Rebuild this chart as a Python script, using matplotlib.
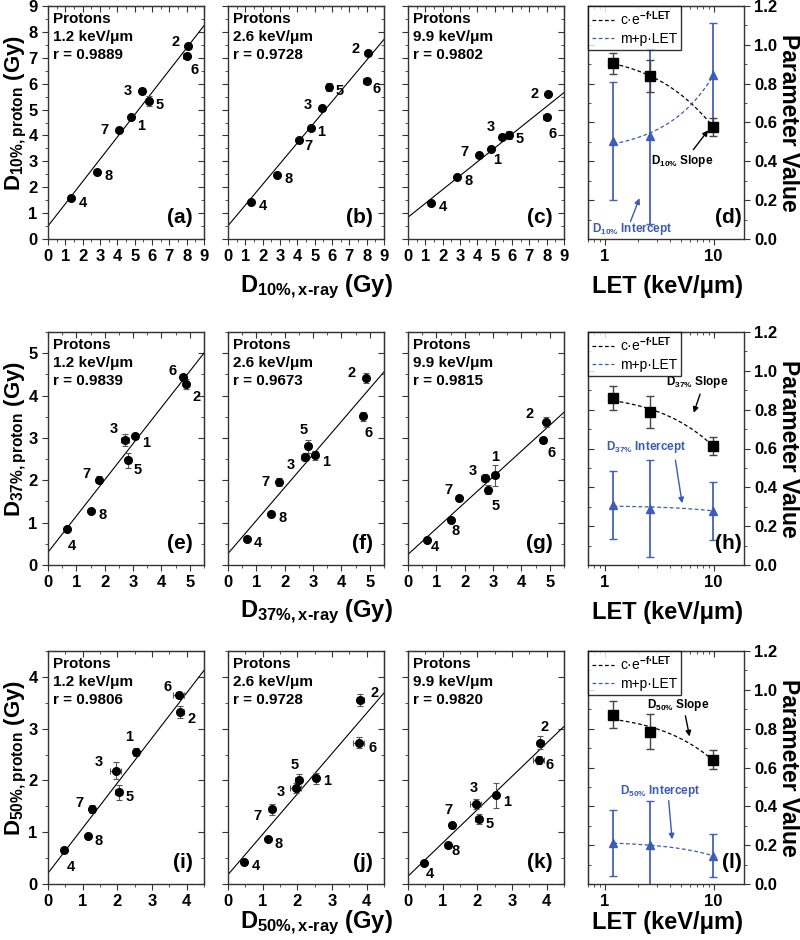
import matplotlib
matplotlib.use('Agg')
import matplotlib.pyplot as plt
from matplotlib.ticker import MultipleLocator, LogLocator, NullFormatter, FixedLocator
import numpy as np

plt.rcParams['font.family'] = ['Liberation Sans', 'DejaVu Sans']
plt.rcParams['font.weight'] = 'bold'
plt.rcParams['mathtext.fontset'] = 'custom'
plt.rcParams['mathtext.rm'] = 'Liberation Sans:bold'
plt.rcParams['mathtext.bf'] = 'Liberation Sans:bold'
plt.rcParams['mathtext.it'] = 'Liberation Sans:bold'

#___Datos

cell_ids = ['1', '2', '3', '4', '5', '6', '7', '8']
LET = [1.2, 2.6, 9.9]
LET_text = ['1.2', '2.6', '9.9']

# D10%
xray_d10 = [4.8, 8.1, 5.4, 1.35, 5.8, 8.0, 4.08, 2.85]
xray_d10_err = [0.05, 0.08, 0.1, 0.03, 0.12, 0.2, 0.05, 0.05]
proton_d10 = [[4.7, 7.45, 5.72, 1.57, 5.32, 7.08, 4.2, 2.6],
              [4.29, 7.17, 5.06, 1.44, 5.86, 6.1, 3.82, 2.47],
              [3.47, 5.6, 3.95, 1.38, 4.02, 4.7, 3.24, 2.4]]
proton_d10_err = [[0.05, 0.1, 0.1, 0.05, 0.2, 0.1, 0.05, 0.05],
                  [0.05, 0.08, 0.1, 0.05, 0.15, 0.1, 0.05, 0.05],
                  [0.08, 0.05, 0.1, 0.05, 0.15, 0.1, 0.05, 0.05]]
r_d10 = ['0.9889', '0.9728', '0.9802']
line_d10_int = [0.5, 0.51, 0.84]
line_d10_slope = [0.86, 0.80, 0.535]
slope_d10 = [0.905, 0.838, 0.578]
slope_d10_err = [0.055, 0.082, 0.045]
icpt_d10 = [0.505, 0.528, 0.845]
icpt_d10_err = [0.306, 0.45, 0.265]

# D37%
xray_d37 = [3.08, 4.86, 2.71, 0.66, 2.83, 4.77, 1.8, 1.53]
xray_d37_err = [0.08, 0.08, 0.15, 0.03, 0.1, 0.1, 0.08, 0.03]
proton_d37 = [[3.05, 4.27, 2.95, 0.85, 2.47, 4.44, 2.01, 1.28],
              [2.59, 4.41, 2.55, 0.62, 2.8, 3.51, 1.96, 1.21],
              [2.12, 3.37, 2.05, 0.59, 1.78, 2.94, 1.57, 1.06]]
proton_d37_err = [[0.05, 0.12, 0.15, 0.03, 0.17, 0.05, 0.08, 0.03],
                  [0.1, 0.12, 0.1, 0.03, 0.15, 0.1, 0.1, 0.03],
                  [0.25, 0.12, 0.1, 0.03, 0.1, 0.05, 0.05, 0.05]]
r_d37 = ['0.9839', '0.9673', '0.9815']
line_d37_int = [0.30, 0.27, 0.25]
line_d37_slope = [0.855, 0.78, 0.61]
slope_d37 = [0.859, 0.789, 0.614]
slope_d37_err = [0.063, 0.082, 0.047]
icpt_d37 = [0.31, 0.29, 0.28]
icpt_d37_err = [0.175, 0.25, 0.15]

# D50%
xray_d50 = [2.53, 3.82, 1.95, 0.47, 2.04, 3.77, 1.26, 1.14]
xray_d50_err = [0.08, 0.1, 0.15, 0.03, 0.1, 0.15, 0.08, 0.03]
proton_d50 = [[2.55, 3.32, 2.19, 0.65, 1.77, 3.65, 1.45, 0.92],
              [2.04, 3.55, 1.86, 0.43, 2.0, 2.73, 1.44, 0.86],
              [1.71, 2.73, 1.55, 0.41, 1.26, 2.4, 1.13, 0.75]]
proton_d50_err = [[0.08, 0.12, 0.17, 0.03, 0.15, 0.05, 0.08, 0.03],
                  [0.1, 0.12, 0.1, 0.03, 0.12, 0.1, 0.1, 0.03],
                  [0.25, 0.12, 0.1, 0.03, 0.1, 0.08, 0.05, 0.05]]
r_d50 = ['0.9806', '0.9728', '0.9820']
line_d50_int = [0.21, 0.18, 0.15]
line_d50_slope = [0.87, 0.78, 0.643]
slope_d50 = [0.871, 0.784, 0.64]
slope_d50_err = [0.07, 0.09, 0.05]
icpt_d50 = [0.21, 0.2, 0.145]
icpt_d50_err = [0.17, 0.225, 0.11]

# posiciones de etiquetas de cada punto (offset en puntos)
lab_a = {'2': (-9, 3), '6': (6, -10), '3': (-10, 0), '1': (7, -6), '7': (-10, 0)}
lab_b = {'2': (-9, 3), '6': (7, -6), '3': (-10, 2), '1': (7, -3), '7': (7, -4)}
lab_c = {'2': (-10, 0), '6': (4, -12), '3': (-8, 7), '1': (4, -8), '7': (-10, 2)}
lab_e = {'6': (-8, 4), '2': (8, -9), '3': (-8, 8), '1': (8, -5), '5': (7, -7), '7': (-9, 4), '4': (4, -12)}
lab_f = {'2': (-10, 4), '6': (4, -12), '5': (-3, 12), '3': (-10, -6), '1': (8, -5), '7': (-10, 0)}
lab_g = {'2': (-12, 6), '6': (6, -9), '1': (0, 13), '3': (-9, 5), '5': (5, -12), '7': (-8, 6), '8': (3, -8), '4': (6, -5)}
lab_i = {'6': (-8, 6), '2': (8, -5), '1': (-5, 11), '3': (-12, 6), '5': (8, -3), '7': (-9, 4), '4': (5, -12)}
lab_j = {'2': (10, 5), '6': (10, -4), '5': (-3, 11), '3': (-11, -3), '1': (8, -2), '7': (-10, -5)}
lab_k = {'2': (3, 11), '6': (8, -4), '1': (8, -5), '3': (-1, 11), '5': (8, -4), '7': (-2, 11), '8': (6, -4), '4': (4, -8)}

BLUE = '#3a5ab8'
W, H = 800, 940
cols_x = [48, 228, 408, 588]
rows_top = [6, 332, 651]
aw, ah = 156, 233


def make_ax(fig, r, c):
    x0 = cols_x[c] / W
    y0 = 1 - (rows_top[r] + ah) / H
    ax = fig.add_axes([x0, y0, aw / W, ah / H])
    for s in ax.spines.values():
        s.set_color('#333333')
        s.set_linewidth(1.0)
    return ax


def inner_ticks(ax, side, major, minor):
    # ticks hacia adentro en los lados sin etiquetas
    if side in ('top', 'bottom'):
        sec = ax.secondary_xaxis(side)
        axis = sec.xaxis
    else:
        sec = ax.secondary_yaxis(side)
        axis = sec.yaxis
    axis.set_major_locator(major)
    axis.set_minor_locator(minor)
    axis.set_major_formatter(NullFormatter())
    axis.set_minor_formatter(NullFormatter())
    sec.tick_params(which='both', direction='in', color='#333333')
    sec.tick_params(which='major', length=4)
    sec.tick_params(which='minor', length=2.5)
    sec.spines[side].set_color('#333333')
    return sec


def scatter_panel(ax, xs, xe, ys, ye, r_txt, let_txt, b0, b1, lim, major, letter, labels, show_y):
    ax.errorbar(xs, ys, xerr=xe, yerr=ye, fmt='o', color='black', ms=5.5,
                ecolor='#555555', elinewidth=0.8, capsize=2.5, capthick=0.8, zorder=3)
    xx = np.array([0, lim])
    ax.plot(xx, b0 + b1 * xx, color='black', lw=0.8, zorder=2)
    for i, cid in enumerate(cell_ids):
        off = labels.get(cid, (8, -3))
        ax.annotate(cid, (xs[i], ys[i]), xytext=off, textcoords='offset points',
                    ha='center', va='center', fontsize=10.5, fontweight='bold')
    ax.set_xlim(0, lim)
    ax.set_ylim(0, lim)
    ax.xaxis.set_major_locator(MultipleLocator(major))
    ax.yaxis.set_major_locator(MultipleLocator(major))
    ax.xaxis.set_minor_locator(MultipleLocator(major / 2))
    ax.yaxis.set_minor_locator(MultipleLocator(major / 2))
    ax.tick_params(which='both', direction='out', color='#333333', labelsize=12)
    ax.tick_params(which='major', length=4)
    ax.tick_params(which='minor', length=2.5)
    inner_ticks(ax, 'top', MultipleLocator(major), MultipleLocator(major / 2))
    inner_ticks(ax, 'right', MultipleLocator(major), MultipleLocator(major / 2))
    if not show_y:
        ax.tick_params(labelleft=False)
    ax.text(0.03, 0.975, 'Protons\n' + let_txt + ' keV/\u03bcm\nr = ' + r_txt,
            transform=ax.transAxes, ha='left', va='top', fontsize=11,
            fontweight='bold', linespacing=1.35)
    ax.text(0.93, 0.05, letter, transform=ax.transAxes, ha='right', va='bottom',
            fontsize=15, fontweight='bold')


def param_panel(ax, sl, sle, ic, ice, dtag, letter, s_txt, s_arr, i_txt, i_arr):
    ax.errorbar(LET, sl, yerr=sle, fmt='s', color='black', ms=7, ecolor='#444444',
                elinewidth=1.0, capsize=3, capthick=1.0, zorder=4)
    ax.errorbar(LET, ic, yerr=ice, fmt='^', color=BLUE, ms=6, ecolor=BLUE,
                elinewidth=1.3, capsize=3, capthick=1.0, alpha=0.95, zorder=3)
    lx = np.linspace(LET[0], LET[-1], 60)
    k, lnc = np.polyfit(LET, np.log(sl), 1)
    p, m = np.polyfit(LET, ic, 1)
    ax.plot(lx, np.exp(lnc) * np.exp(k * lx), color='black', lw=0.9,
            dashes=(3, 2), label='c\u00b7e$^{\\mathrm{-f\u00b7LET}}$', zorder=2)
    ax.plot(lx, m + p * lx, color=BLUE, lw=0.9, dashes=(3, 2),
            label='m+p\u00b7LET', zorder=2)
    ax.set_xscale('log')
    ax.set_xlim(0.7, 19)
    ax.set_ylim(0, 1.2)
    ax.xaxis.set_major_locator(FixedLocator([1, 10]))
    ax.xaxis.set_major_formatter(plt.FixedFormatter(['1', '10']))
    ax.xaxis.set_minor_locator(LogLocator(base=10, subs=np.arange(2, 10)))
    ax.xaxis.set_minor_formatter(NullFormatter())
    ax.yaxis.set_major_locator(MultipleLocator(0.2))
    ax.yaxis.set_minor_locator(MultipleLocator(0.1))
    ax.yaxis.set_major_formatter(plt.FuncFormatter(lambda v, _: '%.1f' % v))
    ax.yaxis.tick_right()
    ax.tick_params(which='both', direction='out', color='#333333', labelsize=12)
    ax.tick_params(which='major', length=4)
    ax.tick_params(which='minor', length=2.5)
    inner_ticks(ax, 'top', FixedLocator([1, 10]), LogLocator(base=10, subs=np.arange(2, 10)))
    inner_ticks(ax, 'left', MultipleLocator(0.2), MultipleLocator(0.1))
    leg = ax.legend(loc='upper left', borderaxespad=0, handlelength=1.6,
                    fontsize=10, frameon=True, fancybox=False, borderpad=0.3,
                    labelspacing=0.3, handletextpad=0.4)
    leg.get_frame().set_edgecolor('black')
    leg.get_frame().set_linewidth(1.0)
    for t in leg.get_texts():
        t.set_fontweight('normal')
    ax.text(0.985, 0.05, letter, transform=ax.transAxes, ha='right', va='bottom',
            fontsize=15, fontweight='bold')
    # etiquetas y flechas
    ax.text(s_txt[0], s_txt[1], 'D$_{\\mathrm{' + dtag + '}}$ Slope', ha='center', va='center',
            fontsize=8.5, fontweight='bold', color='black')
    ax.annotate('', xy=s_arr[1], xytext=s_arr[0],
                arrowprops=dict(arrowstyle='-|>', color='black', lw=1.0, mutation_scale=8,
                                shrinkA=0, shrinkB=0))
    ax.text(i_txt[0], i_txt[1], 'D$_{\\mathrm{' + dtag + '}}$ Intercept', ha='center',
            va='center', fontsize=8.5, fontweight='bold', color=BLUE)
    ax.annotate('', xy=i_arr[1], xytext=i_arr[0],
                arrowprops=dict(arrowstyle='-|>', color=BLUE, lw=1.0, mutation_scale=8,
                                shrinkA=0, shrinkB=0))


fig = plt.figure(figsize=(8, 9.4), dpi=100)

rows = [
    (xray_d10, xray_d10_err, proton_d10, proton_d10_err, r_d10, line_d10_int, line_d10_slope,
     9, 1, ['(a)', '(b)', '(c)'], [lab_a, lab_b, lab_c], '10\\%'),
    (xray_d37, xray_d37_err, proton_d37, proton_d37_err, r_d37, line_d37_int, line_d37_slope,
     5.5, 1, ['(e)', '(f)', '(g)'], [lab_e, lab_f, lab_g], '37\\%'),
    (xray_d50, xray_d50_err, proton_d50, proton_d50_err, r_d50, line_d50_int, line_d50_slope,
     4.5, 1, ['(i)', '(j)', '(k)'], [lab_i, lab_j, lab_k], '50\\%'),
]
xlab_y = [287, 612, 923]

for r, (xs, xe, ys, ye, rr, b0, b1, lim, major, letters, labs, tag) in enumerate(rows):
    for c in range(3):
        ax = make_ax(fig, r, c)
        scatter_panel(ax, xs, xe, ys[c], ye[c], rr[c], LET_text[c], b0[c], b1[c],
                      lim, major, letters[c], labs[c], c == 0)
        if c == 0:
            ax.set_ylabel('D$_{\\mathrm{' + tag + ',proton}}$ (Gy)', fontsize=16,
                          fontweight='bold')
            ax.yaxis.set_label_coords(-0.12, 0.54)
    fig.text(316 / W, 1 - xlab_y[r] / H, 'D$_{\\mathrm{' + tag + ',x\u2011ray}}$ (Gy)',
             ha='center', va='center', fontsize=17, fontweight='bold')
    fig.text(667 / W, 1 - xlab_y[r] / H, 'LET (keV/\u03bcm)', ha='center', va='center',
             fontsize=17, fontweight='bold')
    fig.text(789 / W, 1 - (rows_top[r] + ah / 2) / H, 'Parameter Value', rotation=270,
             ha='center', va='center', fontsize=16.5, fontweight='bold')

ax = make_ax(fig, 0, 3)
param_panel(ax, slope_d10, slope_d10_err, icpt_d10, icpt_d10_err, '10\\%', '(d)',
            (5.1, 0.40), [(6.5, 0.46), (8.9, 0.56)],
            (1.78, 0.05), [(1.72, 0.09), (2.08, 0.21)])
ax = make_ax(fig, 1, 3)
param_panel(ax, slope_d37, slope_d37_err, icpt_d37, icpt_d37_err, '37\\%', '(h)',
            (7.05, 0.94), [(7.5, 0.88), (6.56, 0.784)],
            (2.41, 0.61), [(4.45, 0.54), (5.13, 0.318)])
ax = make_ax(fig, 2, 3)
param_panel(ax, slope_d50, slope_d50_err, icpt_d50, icpt_d50_err, '50\\%', '(l)',
            (4.77, 0.92), [(5.5, 0.866), (6.0, 0.76)],
            (3.24, 0.48), [(3.86, 0.429), (4.15, 0.23)])

fig.savefig('out.png', dpi=100)
